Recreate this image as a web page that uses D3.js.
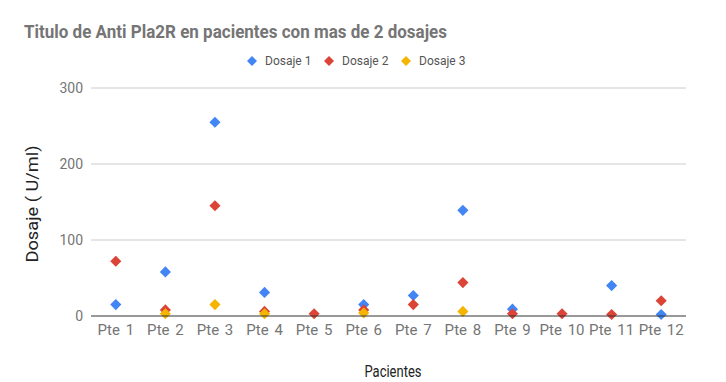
<!DOCTYPE html>
<html><head><meta charset="utf-8">
<script src="https://cdn.jsdelivr.net/npm/d3@7"></script>
<style>body{margin:0;background:#fff}svg{display:block}text{font-family:Roboto,"Noto Sans",sans-serif}</style>
</head><body><svg id="c" width="726" height="382"></svg>
<script>
const categories = ["Pte 1","Pte 2","Pte 3","Pte 4","Pte 5","Pte 6","Pte 7","Pte 8","Pte 9","Pte 10","Pte 11","Pte 12"];
const dosaje1 = [15, 58, 255, 31, null, 15, 27, 139, 9, null, 40, 2];
const dosaje2 = [72, 8, 145, 6, 3, 8, 15, 44, 3, 3, 2, 20];
const dosaje3 = [null, 3, 15, 3, null, 4, null, 6, null, null, null, null];
const seriesNames = ["Dosaje 1","Dosaje 2","Dosaje 3"];
const colors = ["#4285F4","#DB4437","#F4B400"];
const yTicks = [0,100,200,300];

const svg = d3.select("#c");
const x = d3.scaleBand().domain(categories).range([91, 686]);
const y = d3.scaleLinear().domain([0,300]).range([316, 88]);

svg.append("text").attr("x",24).attr("y",38).attr("font-size",19).attr("font-weight","bold").attr("fill","#757575")
  .attr("textLength",423).attr("lengthAdjust","spacingAndGlyphs")
  .text("Titulo de Anti Pla2R en pacientes con mas de 2 dosajes");

// grid
svg.append("g").selectAll("line").data(yTicks.filter(d=>d>0)).join("line")
  .attr("x1",91).attr("x2",686).attr("y1",d=>y(d)).attr("y2",d=>y(d)).attr("stroke","#cccccc").attr("stroke-width",1);
svg.append("g").selectAll("text").data(yTicks).join("text")
  .attr("x",83).attr("y",d=>y(d)+5).attr("text-anchor","end").attr("font-size",14).attr("fill","#757575").text(d=>d);

const all = [dosaje1,dosaje2,dosaje3];
all.forEach((vals,i)=>{
  svg.append("g").selectAll("path").data(vals.map((v,j)=>({v,c:categories[j]})).filter(d=>d.v!=null)).join("path")
    .attr("d", d3.symbol().type(d3.symbolSquare).size(62))
    .attr("transform", d=>`translate(${x(d.c)+x.bandwidth()/2},${y(d.v)}) rotate(45)`)
    .attr("fill", colors[i]);
});

svg.append("line").attr("x1",91).attr("x2",686).attr("y1",y(0)).attr("y2",y(0)).attr("stroke","#333").attr("stroke-width",1);

svg.append("g").selectAll("text").data(categories).join("text")
  .attr("x",d=>x(d)+x.bandwidth()/2).attr("y",335).attr("text-anchor","middle").attr("font-size",15)
  .attr("word-spacing",2).attr("fill","#757575").text(d=>d);

svg.append("text").attr("x",393).attr("y",377).attr("text-anchor","middle").attr("font-size",17).attr("fill","#222")
  .attr("textLength",57).attr("lengthAdjust","spacingAndGlyphs").text("Pacientes");
svg.append("text").attr("transform","translate(38,204) rotate(-90)").attr("text-anchor","middle").attr("font-size",17).attr("fill","#222")
  .attr("textLength",117).attr("lengthAdjust","spacingAndGlyphs").text("Dosaje ( U/ml)");

// legend
const legX = [252,329,406];
seriesNames.forEach((n,i)=>{
  svg.append("path").attr("d", d3.symbol().type(d3.symbolSquare).size(50)).attr("transform",`translate(${legX[i]},61) rotate(45)`).attr("fill",colors[i]);
  svg.append("text").attr("x",legX[i]+13).attr("y",65).attr("font-size",12).attr("fill","#555").text(n);
});
</script></body></html>
